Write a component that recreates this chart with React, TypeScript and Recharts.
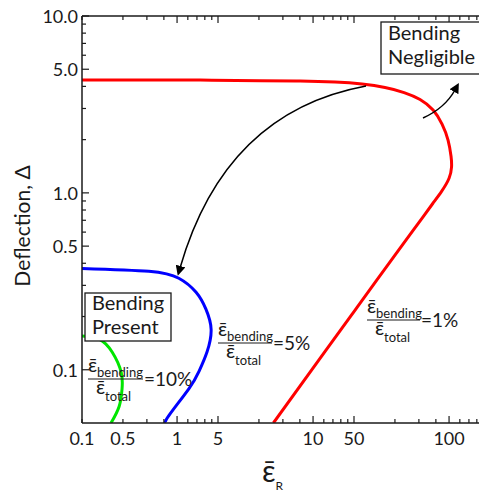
import React from "react";
import { LineChart, Line, XAxis, YAxis } from "recharts";

// curves (x = strain ratio, y = deflection)
const redX = [0.2, 0.534, 1.48, 4.08, 8.02, 14.5, 22.9, 33.8, 46.7, 61.2, 76.3, 88.8, 98.3, 103.4, 104.3, 100, 88.1, 75.9, 64, 52.4, 40.4, 29.4, 19.7, 12, 5.11];
const redY = [4.34, 4.34, 4.34, 4.31, 4.29, 4.23, 4.12, 3.94, 3.69, 3.37, 2.94, 2.45, 1.99, 1.61, 1.4, 1.21, 1.02, 0.871, 0.728, 0.59, 0.449, 0.321, 0.21, 0.124, 0.05];

const blueX = [0.2, 0.62, 1.03, 1.38, 1.63, 1.78, 1.66, 1.45, 1.22, 0.87, 0.83];
const blueY = [0.374, 0.36, 0.329, 0.274, 0.22, 0.169, 0.126, 0.098, 0.078, 0.055, 0.05];

const greenX = [0.2, 0.267, 0.333, 0.388, 0.394, 0.375, 0.327];
const greenY = [0.155, 0.149, 0.126, 0.097, 0.078, 0.062, 0.05];

const xTicks = [0.2, 0.4, 0.6, 0.8, 1, 1.2, 1.4, 1.6, 1.8, 2, 4, 6, 8, 10, 12, 14, 16, 18, 20, 40, 60, 80, 100, 120, 140, 160, 180];
const xMajor = [1, 2, 10, 20, 100];
const xLabelAt = [0.2, 0.4, 1, 2, 10, 20, 100];
const xLabels = ["0.1", "0.5", "1", "5", "10", "50", "100"];

const yTicks = [0.1, 0.2, 0.3, 0.4, 0.5, 0.6, 0.7, 0.8, 0.9, 1, 2, 3, 4, 5, 6, 7, 8, 9, 10];
const yMajor = [0.1, 0.5, 1, 5, 10];
const yLabels = ["0.1", "0.5", "1.0", "5.0", "10.0"];

const FONT = "Lato, 'Open Sans', sans-serif";
const INK = "#1a1a1a";
const EPS = "\u03B5\u0304";

const toPoints = (xs: number[], ys: number[]) => xs.map((x, i) => ({ x, y: ys[i] }));
const red = toPoints(redX, redY);
const blue = toPoints(blueX, blueY);
const green = toPoints(greenX, greenY);

const near = (a: number, b: number) => Math.abs(a - b) < 1e-6 * Math.max(1, b);
const findIdx = (arr: number[], v: number) => arr.findIndex((a) => near(a, v));

const makeXTick = (side: "bottom" | "top") => (props: any) => {
  const { x, y, payload } = props;
  const v = payload.value;
  const len = findIdx(xMajor, v) >= 0 ? 7 : 4;
  const dir = side === "bottom" ? -1 : 1;
  const li = findIdx(xLabelAt, v);
  return (
    <g>
      <line x1={x} y1={y} x2={x} y2={y + dir * len} stroke={INK} strokeWidth={1.2} />
      {side === "bottom" && li >= 0 && (
        <text x={x} y={y + 22} textAnchor="middle" fontSize={18} fontFamily={FONT} fill={INK}>
          {xLabels[li]}
        </text>
      )}
    </g>
  );
};

const makeYTick = (side: "left" | "right") => (props: any) => {
  const { x, y, payload } = props;
  const v = payload.value;
  const mi = findIdx(yMajor, v);
  const len = mi >= 0 ? 7 : 4;
  const dir = side === "left" ? 1 : -1;
  return (
    <g>
      <line x1={x} y1={y} x2={x + dir * len} y2={y} stroke={INK} strokeWidth={1.2} />
      {side === "left" && mi >= 0 && (
        <text x={x - 4} y={y} textAnchor="end" dominantBaseline="central" fontSize={18} fontFamily={FONT} fill={INK}>
          {yLabels[mi]}
        </text>
      )}
    </g>
  );
};

function Fraction({ x, y, w, pct }: { x: number; y: number; w: number; pct: string }) {
  return (
    <g fontFamily={FONT} fill={INK}>
      <text x={x} y={y - 7} fontSize={20}>
        {EPS}
        <tspan fontSize={13} dy={5}>bending</tspan>
      </text>
      <line x1={x} y1={y} x2={x + w} y2={y} stroke={INK} strokeWidth={1.2} />
      <text x={x + 8} y={y + 15} fontSize={20}>
        {EPS}
        <tspan fontSize={13} dy={7}>total</tspan>
      </text>
      <text x={x + w + 1} y={y + 7} fontSize={19}>={pct}</text>
    </g>
  );
}

export default function App() {
  const axisLine = { stroke: INK, strokeWidth: 1.5 };
  return (
    <div style={{ position: "relative", marginTop: -8, marginLeft: -8, width: 487, height: 494, overflow: "hidden" }}>
      <LineChart width={498} height={494} margin={{ top: 8, right: 0, bottom: 0, left: 16 }}>
        <XAxis
          xAxisId="bottom"
          dataKey="x"
          type="number"
          scale="log"
          domain={[0.2, 200]}
          allowDataOverflow
          ticks={xTicks}
          interval={0}
          tickSize={0}
          tickMargin={0}
          tickLine={false}
          axisLine={axisLine}
          tick={makeXTick("bottom")}
          height={71}
        />
        <XAxis
          xAxisId="top"
          orientation="top"
          dataKey="x"
          type="number"
          scale="log"
          domain={[0.2, 200]}
          allowDataOverflow
          ticks={xTicks}
          interval={0}
          tickSize={0}
          tickMargin={0}
          tickLine={false}
          axisLine={axisLine}
          tick={makeXTick("top")}
          height={8}
        />
        <YAxis
          yAxisId="left"
          type="number"
          scale="log"
          domain={[0.05, 10]}
          allowDataOverflow
          ticks={yTicks}
          interval={0}
          tickSize={0}
          tickMargin={0}
          tickLine={false}
          axisLine={axisLine}
          tick={makeYTick("left")}
          width={66}
        />
        <YAxis
          yAxisId="right"
          orientation="right"
          type="number"
          scale="log"
          domain={[0.05, 10]}
          allowDataOverflow
          ticks={yTicks}
          interval={0}
          tickSize={0}
          tickMargin={0}
          tickLine={false}
          axisLine={axisLine}
          tick={makeYTick("right")}
          width={8}
        />
        <Line data={red} dataKey="y" xAxisId="bottom" yAxisId="left" type="natural" stroke="#ff0000" strokeWidth={3} dot={false} isAnimationActive={false} />
        <Line data={blue} dataKey="y" xAxisId="bottom" yAxisId="left" type="natural" stroke="#0000ff" strokeWidth={3} dot={false} isAnimationActive={false} />
        <Line data={green} dataKey="y" xAxisId="bottom" yAxisId="left" type="natural" stroke="#00e600" strokeWidth={3} dot={false} isAnimationActive={false} />
      </LineChart>

      <svg width={487} height={494} style={{ position: "absolute", left: 0, top: 0, pointerEvents: "none" }}>
        <defs>
          <marker id="head" viewBox="0 0 10 10" refX="2" refY="5" markerWidth="10" markerHeight="10" markerUnits="userSpaceOnUse" orient="auto">
            <path d="M0,0 L10,5 L0,10 z" fill="#000" />
          </marker>
        </defs>
        <text transform="translate(30,226) rotate(-90)" textAnchor="middle" fontSize={21} fontFamily={FONT} fill={INK}>
          Deflection, Δ
        </text>
        <text x={262} y={482} fontSize={30} fontFamily={FONT} fill={INK}>
          {EPS}
          <tspan fontSize={12} dy={8}>R</tspan>
        </text>

        <rect x={381} y={22} width={100} height={52} fill="#fff" stroke={INK} strokeWidth={1.3} />
        <text x={388} y={40} fontSize={20} fontFamily={FONT} fill={INK}>Bending</text>
        <text x={388} y={64} fontSize={20} fontFamily={FONT} fill={INK}>Negligible</text>

        <rect x={85} y={293} width={86} height={48} fill="#fff" stroke={INK} strokeWidth={1.3} />
        <text x={92} y={310} fontSize={20} fontFamily={FONT} fill={INK}>Bending</text>
        <text x={92} y={334} fontSize={20} fontFamily={FONT} fill={INK}>Present</text>

        <Fraction x={88} y={379} w={55} pct="10%" />
        <Fraction x={218} y={343} w={54} pct="5%" />
        <Fraction x={367} y={320} w={53} pct="1%" />

        <path d="M366,86 Q225,112 180,268" fill="none" stroke="#000" strokeWidth={1.5} markerEnd="url(#head)" />
        <path d="M423,118 Q445,108 455,90" fill="none" stroke="#000" strokeWidth={1.5} markerEnd="url(#head)" />
      </svg>
    </div>
  );
}
